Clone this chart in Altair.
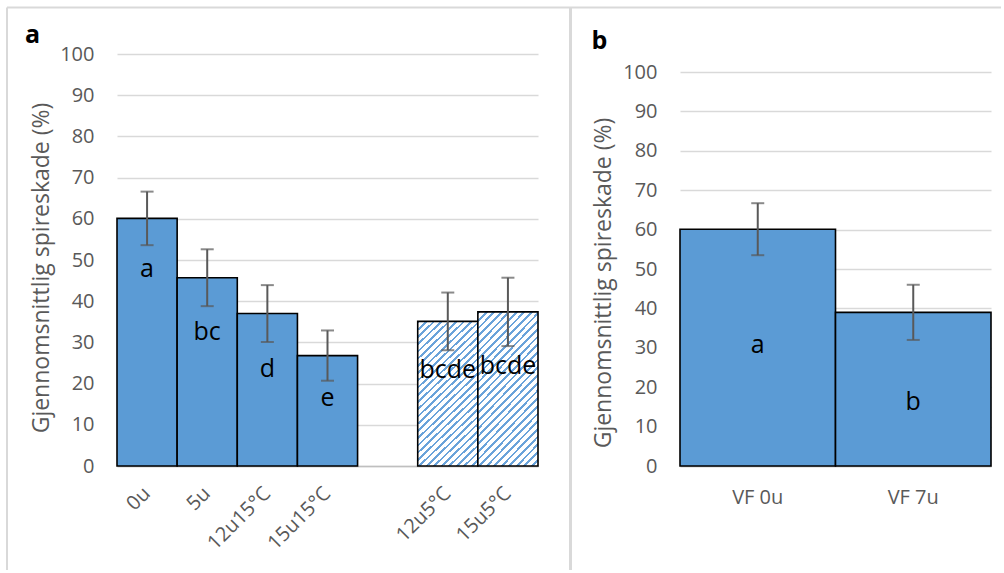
import altair as alt
import pandas as pd

FONT = "Open Sans"
BLUE = "#5b9bd5"
STRIPE = "#6aa3da"
TEXT_GREY = "#595959"
GRID = "#d9d9d9"
FRAME = "#d9d9d9"
AXIS_LINE = "#bfbfbf"

# ---- panel a: storage treatments ----
a_slots = ["0u", "5u", "12u15°C", "15u15°C", " ", "12u5°C", "15u5°C"]
a_treatments = ["0u", "5u", "12u15°C", "15u15°C", "12u5°C", "15u5°C"]
a_means = [60.1, 45.7, 37.0, 26.8, 35.1, 37.4]
a_errors = [6.5, 6.9, 6.9, 6.1, 7.0, 8.3]
a_letters = ["a", "bc", "d", "e", "bcde", "bcde"]
a_letter_pos = [47.7, 32.5, 23.5, 16.4, 23.4, 24.2]
a_hatched = [False, False, False, False, True, True]

# ---- panel b: pre-germination ----
b_treatments = ["VF 0u", "VF 7u"]
b_means = [60.1, 39.0]
b_errors = [6.6, 7.0]
b_letters = ["a", "b"]
b_letter_pos = [30.7, 16.3]

y_ticks = list(range(0, 101, 10))
y_title = "Gjennomsnittlig spireskade (%)"

PLOT_H = 412
WIDTH_A = 421
WIDTH_B = 311


def table(treatments, means, errors, letters, letter_pos, hatched=None):
    return pd.DataFrame({
        "treat": treatments,
        "mean": means,
        "lo": [m - e for m, e in zip(means, errors)],
        "hi": [m + e for m, e in zip(means, errors)],
        "letter": letters,
        "ly": letter_pos,
        "hatched": hatched if hatched is not None else [False] * len(treatments),
    })


df_a = table(a_treatments, a_means, a_errors, a_letters, a_letter_pos, a_hatched)
df_b = table(b_treatments, b_means, b_errors, b_letters, b_letter_pos)
one = pd.DataFrame({"k": [0]})


def hatch_fill(box_w=60.0, box_h=150.0, period=7.5, duty=0.36):
    # linear gradient in bounding-box units, tilted so the stripes run at 45 degrees
    c = (box_w + box_h) / (box_w ** 2 + box_h ** 2)
    n = int(round((box_w + box_h) / period))
    stops = []
    for k in range(n):
        s, m, e = round(k / n, 5), round((k + duty) / n, 5), round((k + 1) / n, 5)
        stops += [
            alt.GradientStop(offset=s, color=STRIPE),
            alt.GradientStop(offset=m, color=STRIPE),
            alt.GradientStop(offset=m, color="white"),
            alt.GradientStop(offset=e, color="white"),
        ]
    return alt.LinearGradient(gradient="linear", stops=stops, x1=0, y1=0,
                              x2=round(c * box_w, 4), y2=round(c * box_h, 4))


def y_axis(title_x, title_y):
    return alt.Axis(
        values=y_ticks, title=y_title, labelFont=FONT, labelFontSize=20,
        labelColor=TEXT_GREY, labelPadding=23, ticks=False,
        domain=False, grid=True, gridColor=GRID, gridWidth=1.5,
        titleFont=FONT, titleFontSize=23, titleColor=TEXT_GREY,
        titleFontWeight="normal", titleAngle=270, titleAlign="center",
        titleBaseline="alphabetic", titleX=title_x, titleY=title_y,
    )


def panel(df, slots, y_range, x_axis, yax, hatched_fill=None):
    xs = alt.Scale(domain=slots, paddingInner=0, paddingOuter=0)
    ys = alt.Scale(domain=[0, 100], range=y_range, nice=False)
    base = alt.Chart(df)
    xenc = alt.X("treat:N", scale=xs, sort=slots, axis=x_axis)

    def yenc(field):
        return alt.Y(field, type="quantitative", scale=ys, axis=yax, title=y_title)

    layers = [
        base.transform_filter("!datum.hatched").mark_bar(
            fill=BLUE, stroke="black", strokeWidth=1.6
        ).encode(x=xenc, y=yenc("mean"))
    ]
    if hatched_fill is not None:
        layers.append(
            base.transform_filter("datum.hatched").mark_bar(
                fill=hatched_fill, stroke="black", strokeWidth=1.6
            ).encode(x=xenc, y=yenc("mean"))
        )
    layers += [
        base.mark_rule(color=TEXT_GREY, strokeWidth=2).encode(
            x=xenc, y=yenc("lo"), y2="hi:Q"),
        base.mark_tick(color=TEXT_GREY, thickness=2, size=13).encode(
            x=xenc, y=yenc("lo")),
        base.mark_tick(color=TEXT_GREY, thickness=2, size=13).encode(
            x=xenc, y=yenc("hi")),
        base.mark_text(font=FONT, fontSize=25, color="black", baseline="middle").encode(
            x=xenc, y=yenc("ly"), text="letter:N"),
    ]
    return layers


x_axis_a = alt.Axis(
    title=None, labelAngle=-45, labelAlign="right", labelBaseline="middle",
    labelFont=FONT, labelFontSize=20, labelColor=TEXT_GREY, labelPadding=24,
    ticks=False, domain=True, domainColor=AXIS_LINE, domainWidth=1.5,
    grid=False, labelOverlap=False,
)
x_axis_b = alt.Axis(
    title=None, labelAngle=0, labelAlign="center", labelBaseline="top",
    labelFont=FONT, labelFontSize=20, labelColor=TEXT_GREY, labelPadding=21,
    ticks=False, domain=True, domainColor=AXIS_LINE, domainWidth=1.5,
    grid=False,
)

# surrounding frame lines, drawn relative to panel a's plot area
frame_left = alt.Chart(one).mark_rule(color=FRAME, strokeWidth=2).encode(
    x=alt.value(-110), y=alt.value(-46.5), y2=alt.value(516))
frame_top = alt.Chart(one).mark_rule(color=FRAME, strokeWidth=2).encode(
    x=alt.value(-110), x2=alt.value(884), y=alt.value(-46.5))
frame_mid = alt.Chart(one).mark_rule(color=FRAME, strokeWidth=3).encode(
    x=alt.value(453.5), y=alt.value(-46.5), y2=alt.value(516))

label_a = alt.Chart(one).mark_text(
    text="a", font=FONT, fontSize=25, fontWeight="bold", color="black",
    align="left", baseline="alphabetic").encode(x=alt.value(-92), y=alt.value(-11))
label_b = alt.Chart(one).mark_text(
    text="b", font=FONT, fontSize=25, fontWeight="bold", color="black",
    align="left", baseline="alphabetic").encode(x=alt.value(-88.5), y=alt.value(-5))

chart_a = alt.layer(
    *panel(df_a, a_slots, [PLOT_H, 0], x_axis_a, y_axis(-69, 213.5), hatch_fill()),
    frame_left, frame_top, frame_mid, label_a,
).properties(width=WIDTH_A, height=PLOT_H)

chart_b = alt.layer(
    *panel(df_b, b_treatments, [PLOT_H, 18], x_axis_b, y_axis(-70, 228.5)),
    label_b,
).properties(width=WIDTH_B, height=PLOT_H)

chart = alt.hconcat(chart_a, chart_b, spacing=142, bounds="flush").properties(
    padding={"left": 6, "top": 6, "right": 0, "bottom": 0},
    background="white",
).configure_view(stroke=None)

chart.save("out.html", embed_options={"renderer": "svg", "actions": False})
